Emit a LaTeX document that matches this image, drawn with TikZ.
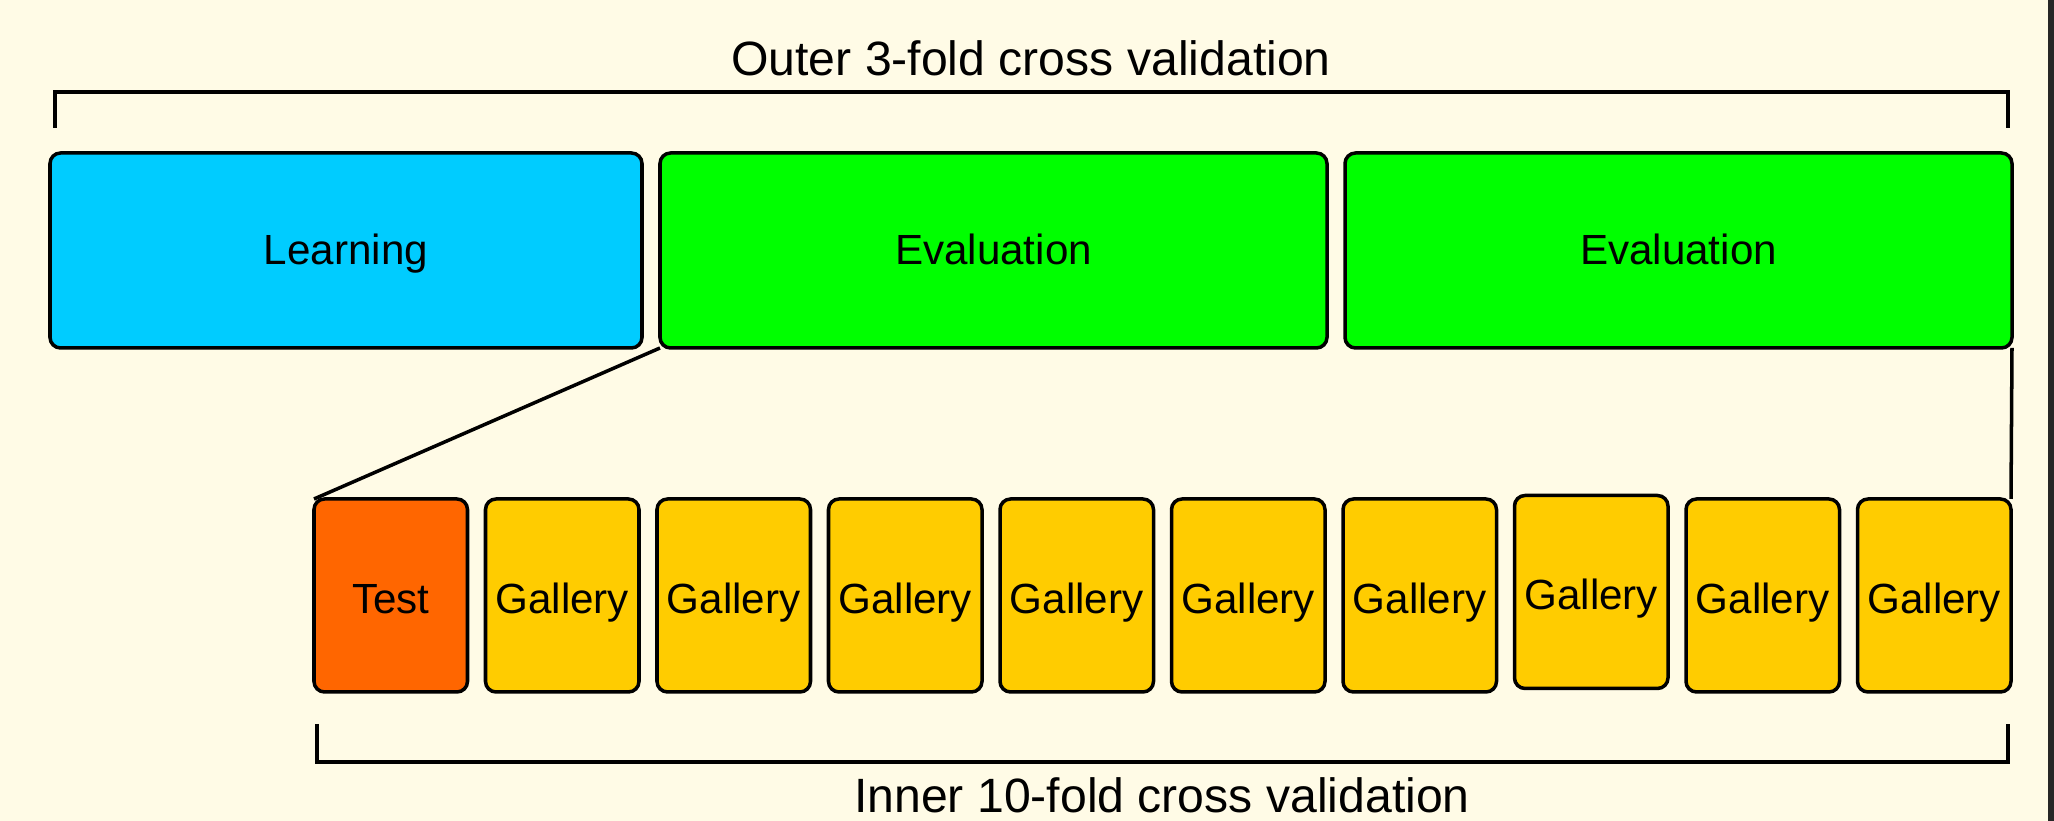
\documentclass[tikz,border=0pt]{standalone}
\usepackage{fontspec}
\setmainfont{Liberation Sans}
\usepackage{tikz}
\usetikzlibrary{positioning}
\definecolor{bgcream}{HTML}{FFFBE6}
\definecolor{learncyan}{HTML}{00CCFF}
\definecolor{evalgreen}{HTML}{00FF00}
\definecolor{testorange}{HTML}{FF6600}
\definecolor{galyellow}{HTML}{FFCC00}
\begin{document}
\begin{tikzpicture}[node distance=1.8mm and 1.8mm,every node/.style={font=\fontsize{12}{14}\selectfont},
  part/.style={draw,line width=1pt,rounded corners=3pt,minimum width=6.67cm,minimum height=1.95cm,inner sep=0pt,outer sep=0pt,text height=8.8pt,text depth=1pt},
  fold/.style={draw,line width=1pt,rounded corners=3pt,minimum width=1.535cm,minimum height=1.93cm,inner sep=0pt,outer sep=0pt,fill=galyellow,text height=10pt,text depth=0pt},
  brace/.style={line width=1pt},
  lbl/.style={font=\fontsize{13.7}{16}\selectfont}]
\fill[bgcream] (0,0) rectangle (20.54,-8.21);
\useasboundingbox (0,0) rectangle (20.54,-8.21);
\fill[black!85] (20.48,0) rectangle (20.54,-8.21);
% outer folds
\node[part,fill=learncyan,minimum width=5.92cm,anchor=north west] (learn) at (0.50,-1.53) {Learning};
\node[part,fill=evalgreen,right=of learn] (evalA) {Evaluation};
\node[part,fill=evalgreen,right=of evalA] (evalB) {Evaluation};
% inner folds
\node[fold,fill=testorange,anchor=north west] (test) at (3.14,-4.99) {Test};
\node[fold,right=of test] (g1) {Gallery};
\node[fold,right=of g1] (g2) {Gallery};
\node[fold,right=of g2] (g3) {Gallery};
\node[fold,right=of g3] (g4) {Gallery};
\node[fold,right=of g4] (g5) {Gallery};
\node[fold,right=of g5] (g6) {Gallery};
\node[fold,right=of g6,yshift=0.035cm] (g7) {Gallery};
\node[fold,right=of g7,yshift=-0.035cm] (g8) {Gallery};
\node[fold,right=of g8] (g9) {Gallery};
\draw[line width=1pt] (evalA.south west)--(test.north west);
\draw[line width=1pt] (evalB.south east)--(g9.north east);
% brackets
\coordinate (oL) at (0.55,-1.28);\coordinate (oR) at (20.08,-1.28);
\coordinate (iL) at (3.17,-7.24);\coordinate (iR) at (20.08,-7.24);
\draw[brace] (oL)--++(0,0.36)-|(oR);
\draw[brace] (iL)--++(0,-0.38)-|(iR);
\node[lbl] (outer) at (10.31,-0.58) {Outer 3-fold cross validation};
\node[lbl] (inner) at (11.62,-7.95) {Inner 10-fold cross validation};
\end{tikzpicture}
\end{document}
